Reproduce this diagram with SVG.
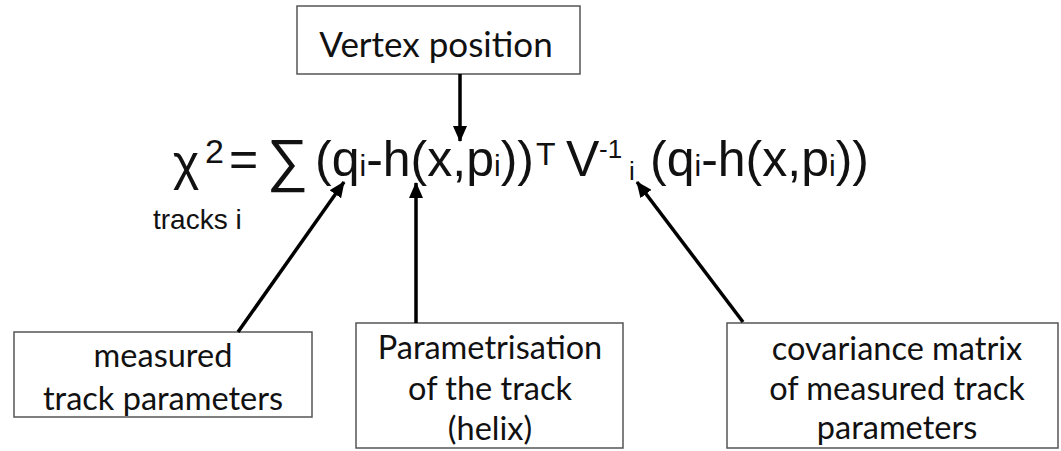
<svg xmlns="http://www.w3.org/2000/svg" width="1061" height="451" viewBox="0 0 1061 451">
<style>
.box{fill:#fff;stroke:#555;stroke-width:1.5}
.lbl{font-family:Lato,"Open Sans",sans-serif;fill:#111;text-anchor:middle}
.f{font-family:"Liberation Sans",Arial,sans-serif;fill:#111}
.arr{stroke:#000;stroke-width:3.5;fill:none;marker-end:url(#ah)}
</style>
<defs>
<marker id="ah" markerUnits="userSpaceOnUse" markerWidth="16" markerHeight="14" refX="15" refY="7" orient="auto">
<path d="M0,0 L16,7 L0,14 Z" fill="#000"/>
</marker>
</defs>
<rect width="1061" height="451" fill="#fff"/>
<g id="formula" class="f">
<text x="173" y="180" font-size="50">χ</text>
<text x="205" y="163" font-size="34">2</text>
<text x="229" y="176" font-size="50">=</text>
<text x="267" y="180" font-size="58">∑</text>
<text x="315" y="176" font-size="50">(q<tspan font-size="30">i</tspan>-h(x,p<tspan font-size="30">i</tspan>))</text>
<text x="536" y="165" font-size="32">T</text>
<text x="566" y="176" font-size="50">V</text>
<text x="599" y="158" font-size="26">-1</text>
<text x="629" y="180" font-size="26">i</text>
<text x="650" y="176" font-size="50">(q<tspan font-size="30">i</tspan>-h(x,p<tspan font-size="30">i</tspan>))</text>
<text x="153" y="229" font-size="28">tracks i</text>
</g>
<g id="vertex">
<rect class="box" x="297" y="6" width="283" height="68"/>
<text class="lbl" x="436" y="57" font-size="35">Vertex position</text>
</g>
<g id="measured">
<rect class="box" x="14" y="332" width="298" height="85"/>
<text class="lbl" x="163" y="367" font-size="32.5">measured</text>
<text class="lbl" x="163" y="410" font-size="32.5">track parameters</text>
</g>
<g id="param">
<rect class="box" x="356" y="323" width="267" height="125"/>
<text class="lbl" x="490" y="359" font-size="32.5">Parametrisation</text>
<text class="lbl" x="490" y="400" font-size="32.5">of the track</text>
<text class="lbl" x="490" y="440" font-size="32.5">(helix)</text>
</g>
<g id="covariance">
<rect class="box" x="727" y="323" width="331" height="125"/>
<text class="lbl" x="897" y="360" font-size="32.5">covariance matrix</text>
<text class="lbl" x="897" y="400" font-size="32.5">of measured track</text>
<text class="lbl" x="897" y="439" font-size="32.5">parameters</text>
</g>
<g id="connectors">
<line class="arr" x1="460" y1="74" x2="460" y2="141"/>
<line class="arr" x1="238" y1="332" x2="344" y2="182"/>
<line class="arr" x1="416" y1="323" x2="416" y2="183"/>
<line class="arr" x1="743" y1="322" x2="637" y2="182"/>
</g>
</svg>
